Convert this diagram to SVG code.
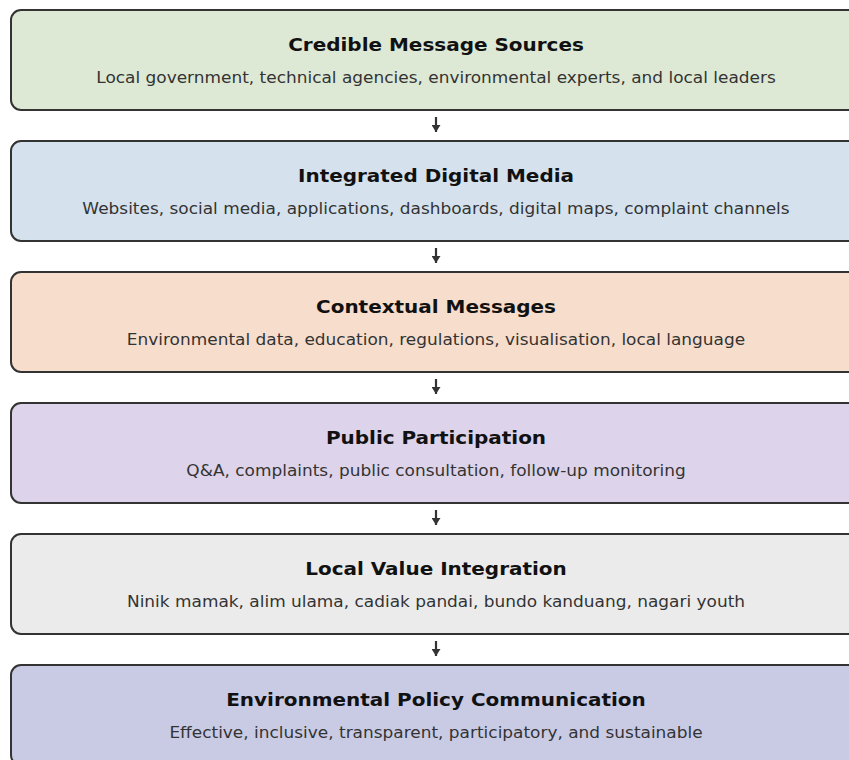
<svg xmlns="http://www.w3.org/2000/svg" width="849" height="760" viewBox="0 0 849 760">
  <defs>
    <marker id="arrowhead" viewBox="0 0 10 10" preserveAspectRatio="none" refX="10" refY="5" markerWidth="7" markerHeight="9" markerUnits="userSpaceOnUse" orient="auto">
      <path d="M0,0 L10,5 L0,10 z" fill="#333333"/>
    </marker>
  </defs>
  <style>
    .box { stroke: #333333; stroke-width: 2; }
    .label { transform: translateX(436px); }
    .title { font-family: "DejaVu Sans", sans-serif; font-weight: bold; font-size: 18px; fill: #111111; text-anchor: middle; transform: scaleX(1.11); }
    .sub { font-family: "DejaVu Sans", sans-serif; font-size: 16px; fill: #333333; text-anchor: middle; transform: scaleX(1.06); }
    .conn { stroke: #333333; stroke-width: 2.2; fill: none; marker-end: url(#arrowhead); }
  </style>
  <rect width="849" height="760" fill="#ffffff"/>

  <g id="node-sources">
    <rect class="box" x="11" y="10" width="850" height="100" rx="10" fill="#dde8d5"/>
    <g class="label">
      <text class="title" x="0" y="51">Credible Message Sources</text>
      <text class="sub" x="0" y="83">Local government, technical agencies, environmental experts, and local leaders</text>
    </g>
  </g>
  <g id="node-media">
    <rect class="box" x="11" y="141" width="850" height="100" rx="10" fill="#d5e2ee"/>
    <g class="label">
      <text class="title" x="0" y="182">Integrated Digital Media</text>
      <text class="sub" x="0" y="214">Websites, social media, applications, dashboards, digital maps, complaint channels</text>
    </g>
  </g>
  <g id="node-messages">
    <rect class="box" x="11" y="272" width="850" height="100" rx="10" fill="#f6ddcc"/>
    <g class="label">
      <text class="title" x="0" y="313">Contextual Messages</text>
      <text class="sub" x="0" y="345">Environmental data, education, regulations, visualisation, local language</text>
    </g>
  </g>
  <g id="node-participation">
    <rect class="box" x="11" y="403" width="850" height="100" rx="10" fill="#ddd3ea"/>
    <g class="label">
      <text class="title" x="0" y="444">Public Participation</text>
      <text class="sub" x="0" y="476">Q&amp;A, complaints, public consultation, follow-up monitoring</text>
    </g>
  </g>
  <g id="node-local-values">
    <rect class="box" x="11" y="534" width="850" height="100" rx="10" fill="#ebebeb"/>
    <g class="label">
      <text class="title" x="0" y="575">Local Value Integration</text>
      <text class="sub" x="0" y="607">Ninik mamak, alim ulama, cadiak pandai, bundo kanduang, nagari youth</text>
    </g>
  </g>
  <g id="node-policy">
    <rect class="box" x="11" y="665" width="850" height="100" rx="10" fill="#c9cbe5"/>
    <g class="label">
      <text class="title" x="0" y="706">Environmental Policy Communication</text>
      <text class="sub" x="0" y="738">Effective, inclusive, transparent, participatory, and sustainable</text>
    </g>
  </g>

  <g id="connectors">
    <line class="conn" x1="436" y1="117" x2="436" y2="132"/>
    <line class="conn" x1="436" y1="248" x2="436" y2="263"/>
    <line class="conn" x1="436" y1="379" x2="436" y2="394"/>
    <line class="conn" x1="436" y1="510" x2="436" y2="525"/>
    <line class="conn" x1="436" y1="641" x2="436" y2="656"/>
  </g>
</svg>
